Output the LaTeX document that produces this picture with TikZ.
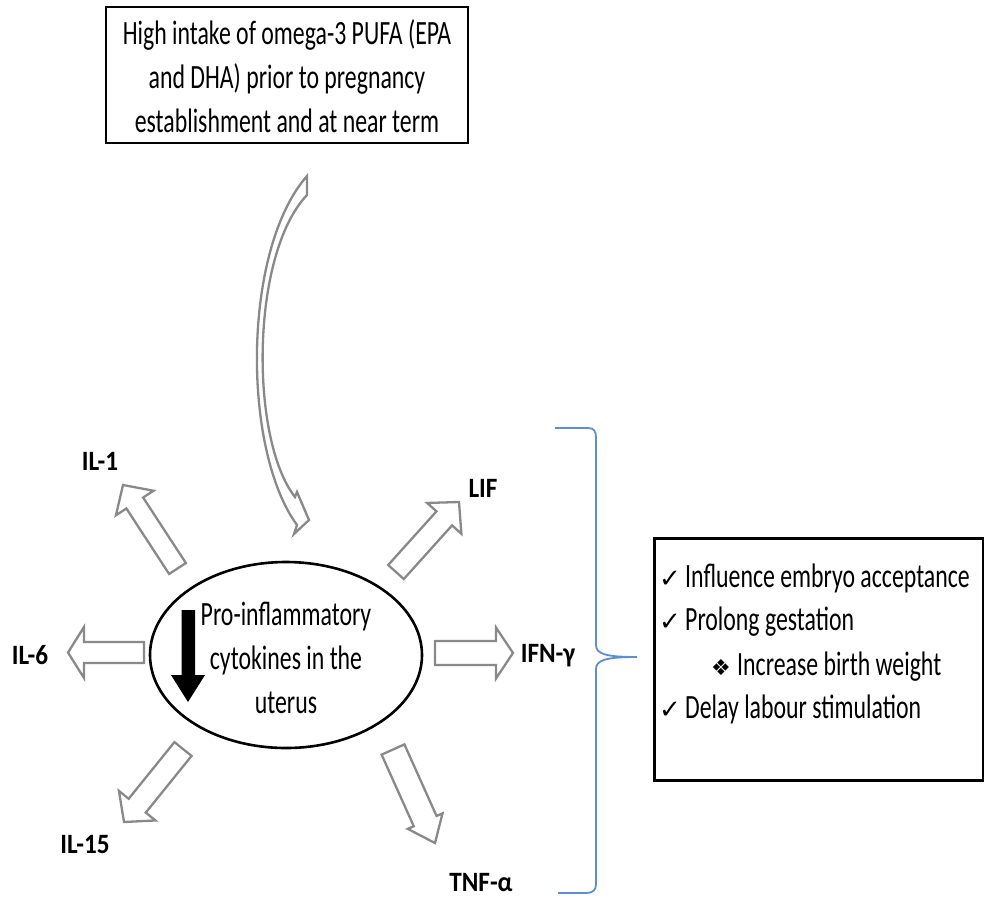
\documentclass[tikz,border=0pt]{standalone}
\usepackage{fontspec}
\setmainfont{Carlito}[FakeStretch=0.7]
\newfontfamily\lblfont{Carlito}[FakeStretch=0.9]
\newfontfamily\symfont{DejaVu Sans}
\usetikzlibrary{calc,shapes.geometric}
\definecolor{arrgray}{RGB}{137,137,137}
\definecolor{braceblue}{RGB}{91,143,210}
\tikzset{
  blockarrow/.style={draw=arrgray, line width=2.3pt, fill=white, line join=miter},
  txt/.style={font=\fontsize{34}{44}\selectfont, inner sep=0pt},
  lbl/.style={font=\lblfont\bfseries\fontsize{28}{30}\selectfont, inner sep=0pt, anchor=base},
  sym/.style={font=\symfont\fontsize{26}{26}\selectfont, inner sep=0pt, anchor=base west},
  dsym/.style={font=\symfont\fontsize{22}{22}\selectfont, inner sep=0pt, anchor=base west},
  boxed/.style={draw=black, line width=2.6pt, inner sep=0pt}
}
% #1 tail, #2 tip, #3 half shaft width, #4 half head width, #5 head length
\newcommand{\blockarr}[5]{%
  \coordinate (#1-n) at ($(#2)!#5pt!(#1)$);
  \draw[blockarrow] ($(#1)!#3pt!90:(#2)$) -- ($(#1-n)!#3pt!90:(#2)$)
    -- ($(#1-n)!#4pt!90:(#2)$) -- (#2) -- ($(#1-n)!#4pt!-90:(#2)$)
    -- ($(#1-n)!#3pt!-90:(#2)$) -- ($(#1)!#3pt!-90:(#2)$) -- cycle;}
\begin{document}
\begin{tikzpicture}[x=1pt,y=-1pt]
\useasboundingbox (0,0) rectangle (984,898);

% top box
\node[boxed, minimum width=362pt, minimum height=136pt] (topbox) at (287,75) {};
\node[txt, align=center] (toptext) at (287,76)
  {High intake of omega-3 PUFA (EPA\\and DHA) prior to pregnancy\\establishment and at near term};

% curved block arrow
\coordinate (ca-o1) at (307,176);
\coordinate (ca-o2) at (297,525);
\coordinate (ca-i1) at (295,497);
\coordinate (ca-i2) at (307,195);
\draw[blockarrow] (ca-o1) .. controls (242,250) and (242,450) .. (ca-o2)
  -- (294,534) -- (309,520) -- (297,492) -- (ca-i1)
  .. controls (250,440) and (250,255) .. (ca-i2) -- cycle;

% ellipse
\node[draw=black, line width=2.6pt, ellipse, minimum width=272pt, minimum height=186pt, inner sep=0pt] (cyto) at (286,655) {};
\node[txt, align=center] (cytotext) at (286,658) {Pro-inflammatory\\cytokines in the\\uterus};
\fill[black] (181.5,610) -- (195,610) -- (195,675) -- (205,675) -- (188,702) -- (171,675) -- (181.5,675) -- cycle;

% block arrows
\coordinate (t1) at (177.5,568.5); \coordinate (p1) at (123,485);
\coordinate (t2) at (144,652.5);   \coordinate (p2) at (68,652.5);
\coordinate (t3) at (183,749);     \coordinate (p3) at (124,822);
\coordinate (t4) at (396,572);     \coordinate (p4) at (459,502);
\coordinate (t5) at (435,653);     \coordinate (p5) at (513,653);
\coordinate (t6) at (393,749.5);   \coordinate (p6) at (435,843);
\blockarr{t1}{p1}{10}{22.5}{21.5}
\blockarr{t2}{p2}{10.5}{25.5}{16}
\blockarr{t3}{p3}{11}{23.5}{21}
\blockarr{t4}{p4}{10.5}{23}{22}
\blockarr{t5}{p5}{12}{25.5}{17}
\blockarr{t6}{p6}{12.5}{19}{24}

% labels
\node[lbl] (il1) at (100,470) {IL-1};
\node[lbl] (il6) at (30,664) {IL-6};
\node[lbl] (il15) at (85,853) {IL-15};
\node[lbl] (lif) at (483,497) {LIF};
\node[lbl] (ifn) at (548,662) {IFN-γ};
\node[lbl] (tnf) at (481,891) {TNF-α};

% brace
\draw[braceblue, line width=1.8pt] (555,428) -- (588,428) .. controls (594,428) and (596,431) .. (596,438)
  -- (596,645) .. controls (596,654) and (606,657) .. (637,657)
  .. controls (606,657) and (596,660) .. (596,669)
  -- (596,884) .. controls (596,890) and (593,893) .. (586,893) -- (558,893);

% right box
\node[boxed, minimum width=329pt, minimum height=242pt, anchor=north west] (resbox) at (653,537) {};
\node[sym] (c1) at (659,587) {✓};
\node[txt, anchor=base west] (r1) at (685,587) {Influence embryo acceptance};
\node[sym] (c2) at (659,630) {✓};
\node[txt, anchor=base west] (r2) at (685,630) {Prolong gestation};
\node[dsym] (c3) at (711,675) {❖};
\node[txt, anchor=base west] (r3) at (737,675) {Increase birth weight};
\node[sym] (c4) at (659,718) {✓};
\node[txt, anchor=base west] (r4) at (685,718) {Delay labour stimulation};
\end{tikzpicture}
\end{document}
